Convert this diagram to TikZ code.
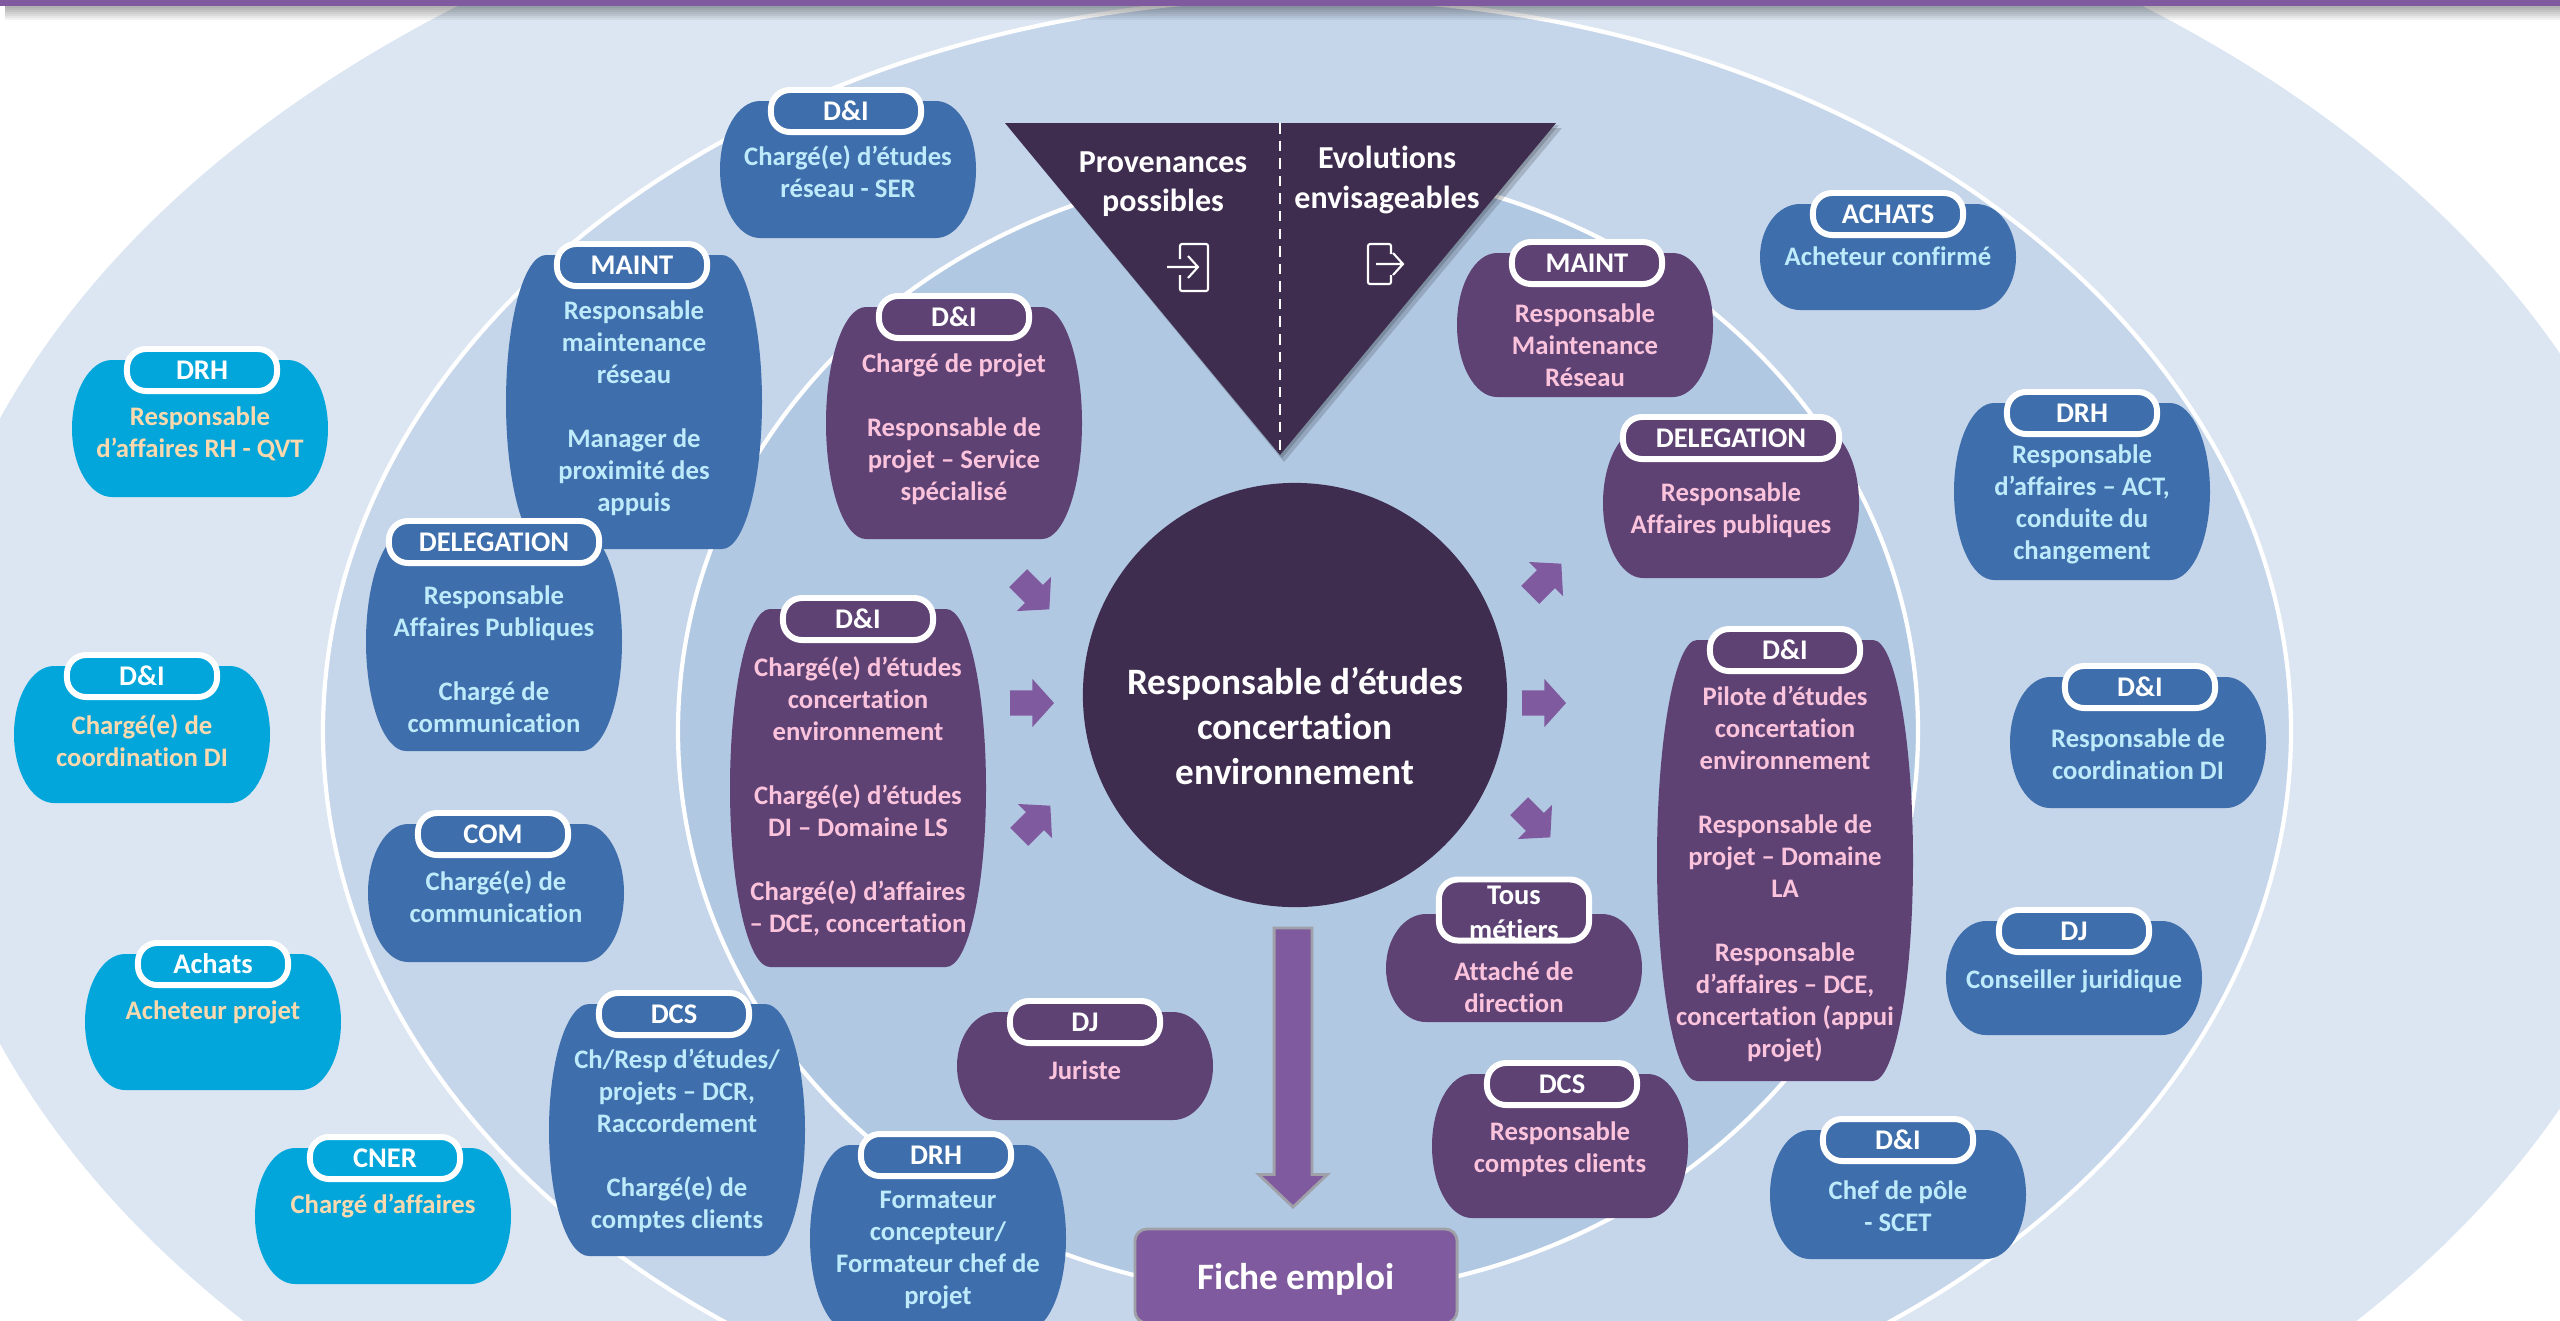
\documentclass[tikz,border=0pt]{standalone}
\usepackage{fontspec}
\setmainfont{Carlito}[Ligatures=CommonOff]
\usetikzlibrary{shapes.arrows}

\definecolor{anneau1}{HTML}{DCE6F2}
\definecolor{anneau2}{HTML}{C5D5EA}
\definecolor{anneau3}{HTML}{B1C8E3}
\definecolor{corpscyan}{HTML}{02A6DB}
\definecolor{textecyan}{HTML}{FBD9AE}
\definecolor{corpsbleu}{HTML}{3E6EAB}
\definecolor{textebleu}{HTML}{BDEBFB}
\definecolor{corpsviolet}{HTML}{5E4274}
\definecolor{texteviolet}{HTML}{FBC3DC}
\definecolor{sombre}{HTML}{3F2D50}
\definecolor{mauve}{HTML}{7F5A9E}
\definecolor{bordgris}{HTML}{A0A0A8}

\tikzset{
  tete/.style={draw=white, line width=1.7pt, rounded corners=0.19cm, minimum width=1.5cm, minimum height=0.42cm, inner sep=0pt, text=white, align=center, font=\fontsize{8.1}{9.4}\selectfont\bfseries},
  texte/.style={align=center, inner sep=0pt, font=\fontsize{7.6}{9.1}\selectfont\bfseries},
  titre/.style={align=center, inner sep=0pt, text=white, font=\fontsize{9.1}{11.3}\selectfont\bfseries},
  petiteFleche/.style={single arrow, fill=mauve, inner xsep=0pt, inner ysep=0.12cm, minimum height=0.44cm, single arrow head extend=0.115cm, single arrow tip angle=96},
  icone/.style={draw=white, line width=0.6pt, rounded corners=0.02cm},
}

% name, colour, x, top, bottom, head, y of the text, text
\newcommand{\carte}[9][]{%
  \fill[corps#3] (#4-88,#5) -- (#4+88,#5) arc[start angle=-90,end angle=90,x radius=40,y radius=(#6-#5)/2]
    -- (#4-88,#6) arc[start angle=90,end angle=270,x radius=40,y radius=(#6-#5)/2] -- cycle;
  \node[tete, fill=corps#3, #1] (tete#2) at (#4,#5+10) {#7};
  \node[texte, text=texte#3] (#2) at (#4,#8+1) {#9};
}

\begin{document}
\begin{tikzpicture}[x=0.01cm,y=-0.01cm]
  \useasboundingbox (0,0) rectangle (2560,1320);
  \clip (0,0) rectangle (2560,1320);

  % Draw the three rings
  \fill[anneau1] (1300,731) ellipse [x radius=1383,y radius=914];
  \draw[line width=1.2pt, white, fill=anneau2] (1307,731) ellipse [x radius=984,y radius=733];
  \draw[line width=1.2pt, white, fill=anneau3] (1298,731) ellipse [x radius=620,y radius=564];

  % Draw the bar at the top
  \foreach \i in {1,...,7}
    \fill[black, opacity=0.05] (5,6) rectangle (2560,6+2*\i);
  \fill[mauve] (0,0) rectangle (2560,6);

  % Outer ring
  \carte[xshift=0.02cm]{drhA}{cyan}{200}{360}{497}{DRH}{433}{Responsable\\d’affaires RH - QVT}
  \carte{diA}{cyan}{142}{666}{803}{D\&I}{740}{Chargé(e) de\\coordination DI}
  \carte{achatsA}{cyan}{213}{954}{1090}{Achats}{1011}{Acheteur projet}
  \carte[xshift=0.02cm]{cner}{cyan}{383}{1148}{1284}{CNER}{1205}{Chargé d’affaires}

  % Middle ring, left
  \carte[xshift=-0.02cm]{diSer}{bleu}{848}{101}{238}{D\&I}{171}{Chargé(e) d’études\\réseau - SER}
  \carte[xshift=-0.02cm]{maintB}{bleu}{634}{255}{549}{MAINT}{407}{Responsable\\maintenance\\réseau\\[9.1pt]Manager de\\proximité des\\appuis}
  \carte[minimum width=2.1cm]{delegB}{bleu}{494}{532}{751}{DELEGATION}{658}{Responsable\\Affaires Publiques\\[9.1pt]Chargé de\\communication}
  \carte[xshift=-0.03cm]{com}{bleu}{496}{824}{962}{COM}{896}{Chargé(e) de\\communication}
  \carte[xshift=-0.03cm]{dcsB}{bleu}{677}{1004}{1256}{DCS}{1140}{Ch/Resp d’études/\\projets – DCR,\\Raccordement\\[9.1pt]Chargé(e) de\\comptes clients}
  \carte[xshift=-0.02cm]{drhB}{bleu}{938}{1145}{1331}{DRH}{1249}{Formateur\\concepteur/\\Formateur chef de\\projet}

  % Middle ring, right
  \carte{achatsB}{bleu}{1888}{204}{310}{ACHATS}{255}{Acheteur confirmé}
  \carte{drhC}{bleu}{2082}{403}{580}{DRH}{503}{Responsable\\d’affaires – ACT,\\conduite du\\changement}
  \carte[xshift=0.02cm]{diC}{bleu}{2138}{677}{808}{D\&I}{753}{Responsable de\\coordination DI}
  \carte{djB}{bleu}{2074}{921}{1035}{DJ}{980}{Conseiller juridique}
  \carte{diScet}{bleu}{1898}{1130}{1259}{D\&I}{1205}{Chef de pôle\\- SCET}

  % Inner ring
  \carte{diProjet}{violet}{954}{307}{539}{D\&I}{428}{Chargé de projet\\[9.1pt]Responsable de\\projet – Service\\spécialisé}
  \carte{diEtudes}{violet}{858}{609}{967}{D\&I}{795}{Chargé(e) d’études\\concertation\\environnement\\[9.1pt]Chargé(e) d’études\\DI – Domaine LS\\[9.1pt]Chargé(e) d’affaires\\– DCE, concertation}
  \carte{djC}{violet}{1085}{1012}{1120}{DJ}{1069}{Juriste}
  \carte[xshift=0.02cm]{maintC}{violet}{1585}{253}{397}{MAINT}{344}{Responsable\\Maintenance\\Réseau}
  \carte[minimum width=2.16cm]{delegC}{violet}{1731}{428}{578}{DELEGATION}{509}{Responsable\\Affaires publiques}
  \carte{diPilote}{violet}{1785}{640}{1081}{D\&I}{873}{Pilote d’études\\concertation\\environnement\\[9.1pt]Responsable de\\projet – Domaine\\LA\\[9.1pt]Responsable\\d’affaires – DCE,\\concertation (appui\\projet)}
  \carte[minimum height=0.61cm, yshift=0.14cm, font=\fontsize{8.1}{9.9}\selectfont\bfseries]{tous}{violet}{1514}{914}{1022}{\rule{0pt}{7pt}Tous\\métiers}{986}{Attaché de\\direction}
  \carte[xshift=0.02cm]{dcsC}{violet}{1560}{1074}{1218}{DCS}{1148}{Responsable\\comptes clients}

  % Draw the triangle
  \fill[black, opacity=0.16] (1009,128) -- (1562,128) -- (1284,462) -- cycle;
  \fill[black, opacity=0.16] (1007,125) -- (1559,125) -- (1282,458) -- cycle;
  \fill[sombre] (1005,123) -- (1556,123) -- (1280,455) -- cycle;
  \draw[white, densely dashed, line width=0.3pt] (1280,123) -- (1280,455);
  \node[titre] (provenances) at (1163,184) {Provenances\\possibles};
  \node[titre] (evolutions) at (1387,180) {Evolutions\\envisageables};
  \draw[icone] (1180,259) -- (1180,244) -- (1208,244) -- (1208,291) -- (1180,291) -- (1180,275);
  \draw[white, line width=0.6pt] (1167,267) -- (1198,267) (1188,256) -- (1198,267) -- (1188,278);
  \draw[icone] (1391,254) -- (1391,244) -- (1368,244) -- (1368,284) -- (1391,284) -- (1391,275);
  \draw[white, line width=0.6pt] (1376,264) -- (1403,264) (1393,253) -- (1403,264) -- (1393,275);

  % Draw the circle
  \node[circle, fill=sombre, minimum size=4.24cm, inner sep=0pt] (cercle) at (1295,695) {};
  \node[titre, font=\fontsize{10.6}{12.8}\selectfont\bfseries] (poste) at (1295,726) {Responsable d’études\\concertation\\environnement};

  % Draw the small arrows
  \node[petiteFleche, anchor=tip, rotate=-45] (flecheA) at (1050,610) {};
  \node[petiteFleche, anchor=tip] (flecheB) at (1055,703) {};
  \node[petiteFleche, anchor=tip, rotate=45] (flecheC) at (1051,805) {};
  \node[petiteFleche, anchor=tip, rotate=45] (flecheD) at (1562,563) {};
  \node[petiteFleche, anchor=tip] (flecheE) at (1567,703) {};
  \node[petiteFleche, anchor=tip, rotate=-45] (flecheF) at (1551,838) {};

  % Draw the long arrow and the box
  \node[single arrow, draw=bordgris, fill=mauve, line width=0.8pt, inner xsep=0pt, inner ysep=0.175cm, minimum height=2.79cm, single arrow head extend=0.155cm, single arrow tip angle=93, anchor=tip, rotate=-90] (descente) at (1293,1209) {};
  \node[rectangle, draw=bordgris, fill=mauve, line width=0.8pt, rounded corners=0.12cm, minimum width=3.22cm, minimum height=0.94cm, inner sep=0pt, text=white, text height=7.4pt, text depth=0pt, font=\fontsize{10.6}{12}\selectfont\bfseries] (fiche) at (1296,1276) {Fiche emploi};
\end{tikzpicture}
\end{document}
